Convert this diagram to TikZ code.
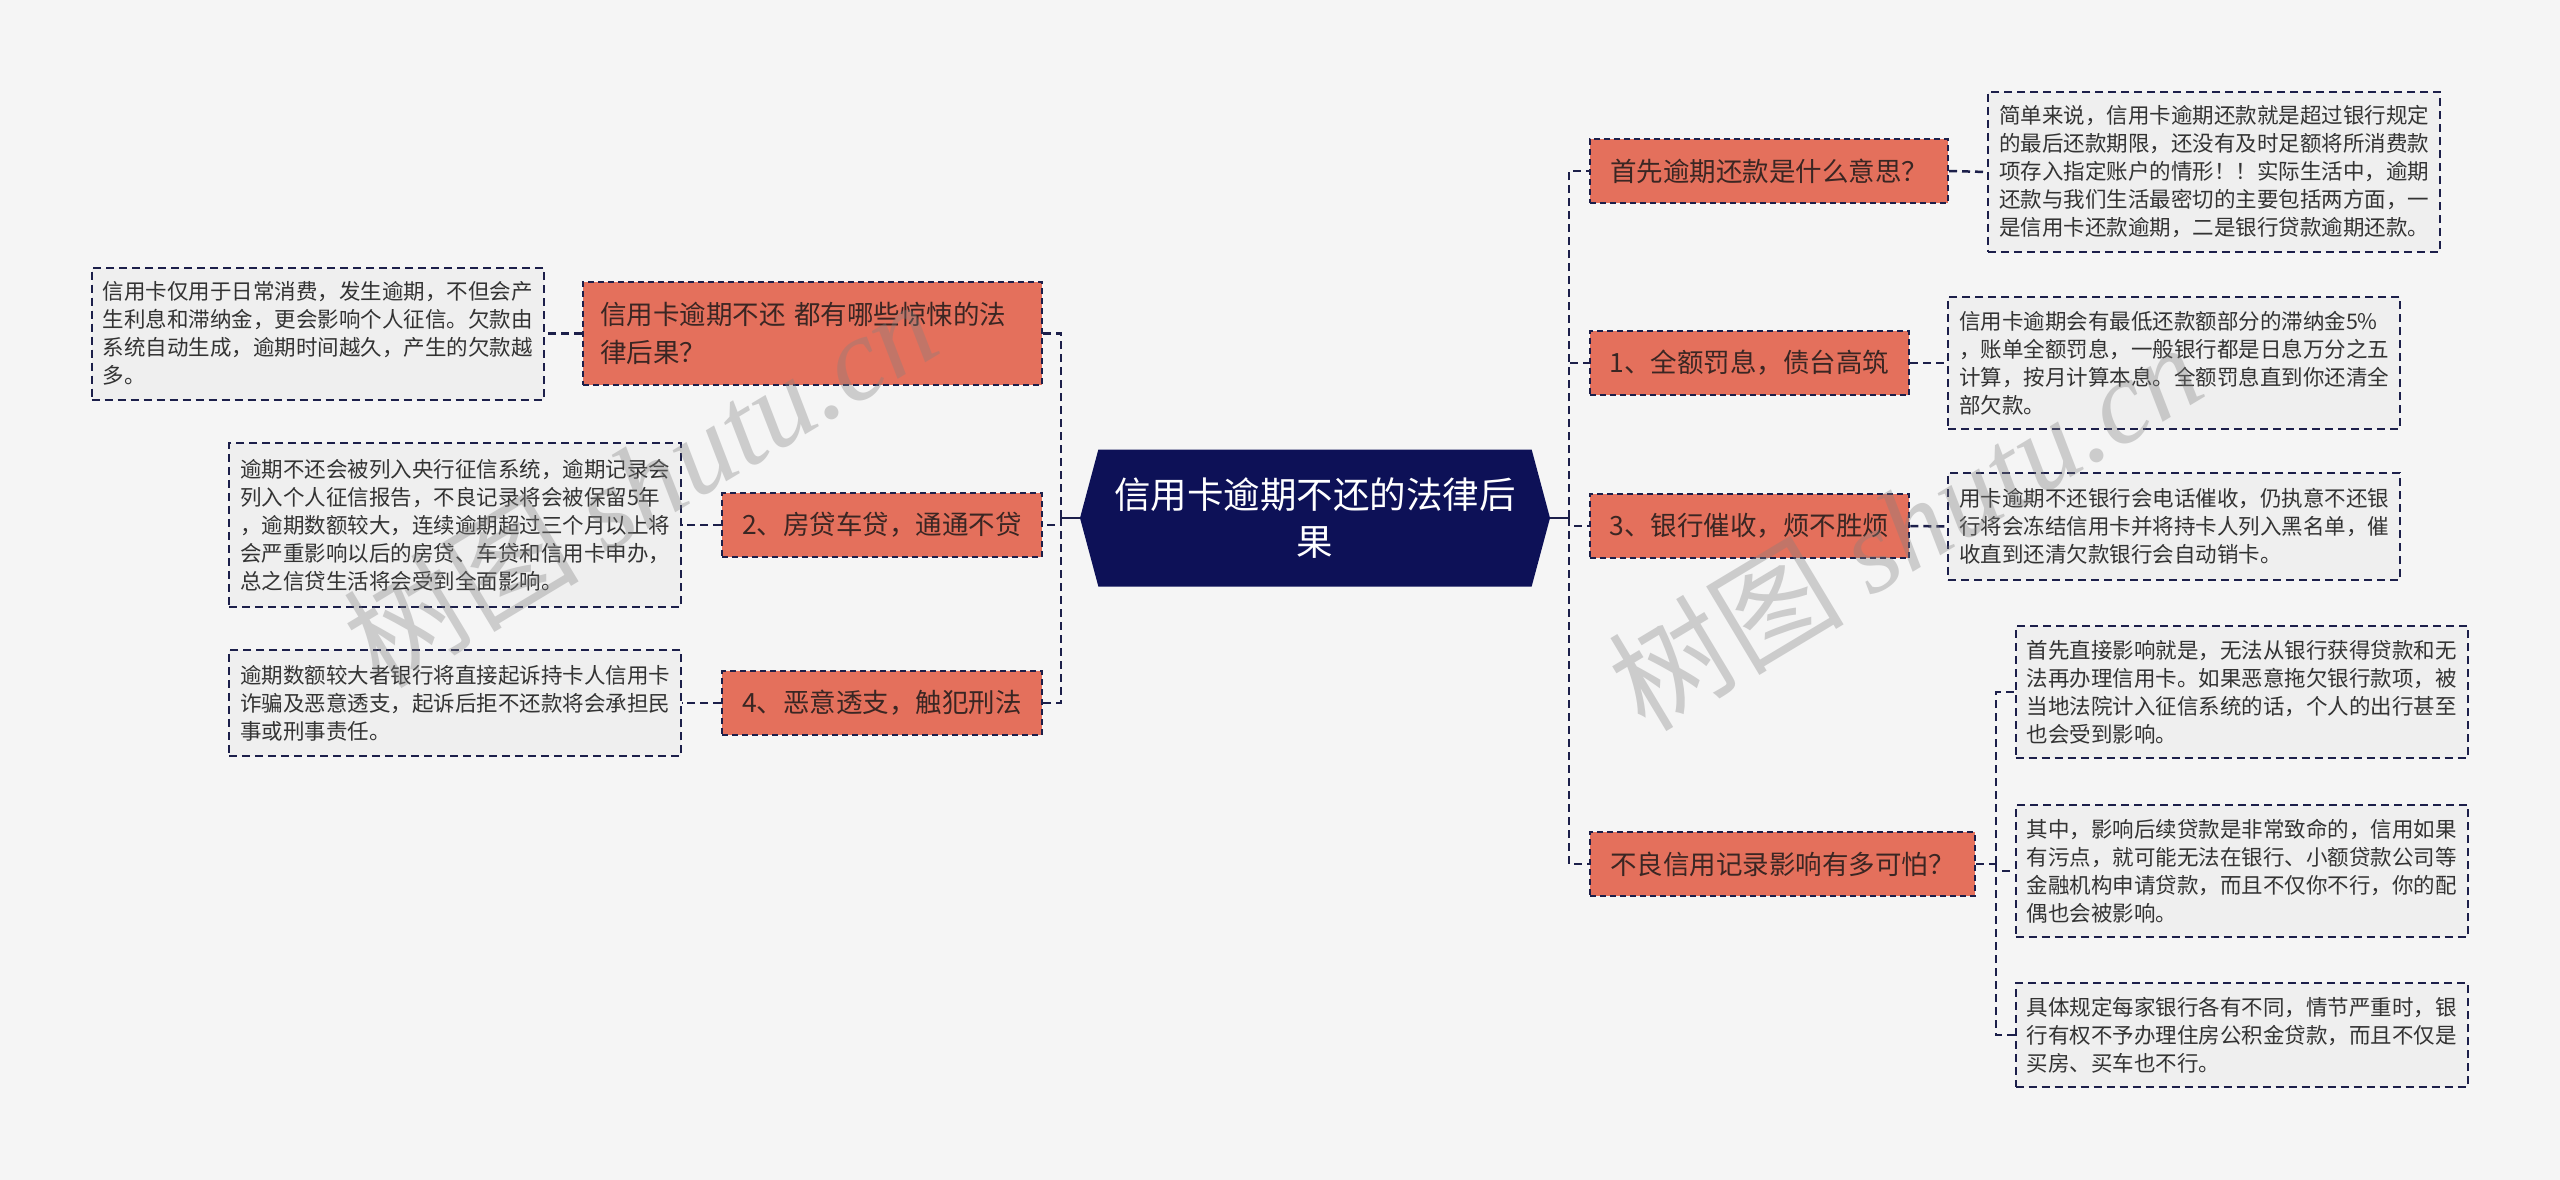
\documentclass[tikz,border=0pt]{standalone}
\usepackage{fontspec}
\setmainfont{Noto Sans CJK SC}
\newfontfamily\wmlatin{Liberation Serif}
\usetikzlibrary{shapes.symbols}
\definecolor{bgc}{HTML}{F5F5F5}
\definecolor{navy}{HTML}{0D1157}
\definecolor{edge}{HTML}{1C1F4A}
\definecolor{salmon}{HTML}{E4705C}
\definecolor{leafc}{HTML}{EFEFEF}
\definecolor{txtc}{HTML}{333333}
\definecolor{htxt}{HTML}{3A2623}
\begin{document}
\begin{tikzpicture}[x=1pt,y=-1pt,
  root/.style={signal,signal to=west and east,signal pointer angle=150,fill=navy,text=white,
    minimum width=470,minimum height=137,inner sep=0pt,align=center,font=\fontsize{36.5}{47}\selectfont},
  head/.style={rectangle,fill=salmon,draw=edge,line width=2pt,dash pattern=on 6pt off 4pt,text=htxt,
    inner xsep=20,inner ysep=0pt,minimum height=64,font=\fontsize{26.5}{38}\selectfont},
  leaf/.style={rectangle,fill=leafc,draw=edge,line width=2pt,dash pattern=on 8pt off 5pt,text=txtc,
    text width=430,inner xsep=11,inner ysep=0pt,align=left,font=\fontsize{21.5}{28}\selectfont},
  link/.style={draw=edge,line width=2.5pt,dash pattern=on 8pt off 5pt},
  stem/.style={draw=edge,line width=2.5pt},
  wmark/.style={text=gray,opacity=0.35,rotate=31,font=\fontsize{118}{118}\selectfont}]
\fill[bgc] (0,0) rectangle (2560,1180);
\useasboundingbox (0,0) rectangle (2560,1180);

\node at (1315,518) [root] (root) {信用卡逾期不还的法律后\\果};

% right side
\node at (1769,171) [head] (r1) {首先逾期还款是什么意思？};
\node at (1749.5,363) [head] (r2) {1、全额罚息，债台高筑};
\node at (1749.5,526) [head] (r3) {3、银行催收，烦不胜烦};
\node at (1782.5,864) [head] (r4) {不良信用记录影响有多可怕？};

\node at (2214,172) [leaf,minimum height=160] (l1) {简单来说，信用卡逾期还款就是超过银行规定\\的最后还款期限，还没有及时足额将所消费款\\项存入指定账户的情形！！实际生活中，逾期\\还款与我们生活最密切的主要包括两方面，一\\是信用卡还款逾期，二是银行贷款逾期还款。};
\node at (2174,363) [leaf,minimum height=132] (l2) {信用卡逾期会有最低还款额部分的滞纳金5\%\\，账单全额罚息，一般银行都是日息万分之五\\计算，按月计算本息。全额罚息直到你还清全\\部欠款。};
\node at (2174,526.5) [leaf,minimum height=107] (l3) {用卡逾期不还银行会电话催收，仍执意不还银\\行将会冻结信用卡并将持卡人列入黑名单，催\\收直到还清欠款银行会自动销卡。};
\node at (2241.5,692) [leaf,minimum height=132] (l4a) {首先直接影响就是，无法从银行获得贷款和无\\法再办理信用卡。如果恶意拖欠银行款项，被\\当地法院计入征信系统的话，个人的出行甚至\\也会受到影响。};
\node at (2241.5,871) [leaf,minimum height=132] (l4b) {其中，影响后续贷款是非常致命的，信用如果\\有污点，就可能无法在银行、小额贷款公司等\\金融机构申请贷款，而且不仅你不行，你的配\\偶也会被影响。};
\node at (2241.5,1035) [leaf,minimum height=104] (l4c) {具体规定每家银行各有不同，情节严重时，银\\行有权不予办理住房公积金贷款，而且不仅是\\买房、买车也不行。};

% left side
\node at (812.5,333.5) [head,text width=425,inner xsep=17,align=left,minimum height=103] (f1) {信用卡逾期不还 都有哪些惊悚的法\\律后果？};
\node at (882,525) [head] (f2) {2、房贷车贷，通通不贷};
\node at (882,703) [head] (f3) {4、恶意透支，触犯刑法};

\node at (317.5,333.5) [leaf,minimum height=132] (e1) {信用卡仅用于日常消费，发生逾期，不但会产\\生利息和滞纳金，更会影响个人征信。欠款由\\系统自动生成，逾期时间越久，产生的欠款越\\多。};
\node at (455,525) [leaf,minimum height=164] (e2) {逾期不还会被列入央行征信系统，逾期记录会\\列入个人征信报告，不良记录将会被保留5年\\，逾期数额较大，连续逾期超过三个月以上将\\会严重影响以后的房贷、车贷和信用卡申办，\\总之信贷生活将会受到全面影响。};
\node at (455,703) [leaf,minimum height=106] (e3) {逾期数额较大者银行将直接起诉持卡人信用卡\\诈骗及恶意透支，起诉后拒不还款将会承担民\\事或刑事责任。};

% junctions
\coordinate (rj) at (1569,518);
\coordinate (lj) at (1061,518);
\coordinate (sj) at (1996,864);

\draw[stem] (root.east) -- (rj);
\draw[link] (rj) |- (r1.west);
\draw[link] (rj) |- (r2.west);
\draw[link] (rj) |- (r3.west);
\draw[link] (rj) |- (r4.west);
\draw[link] (r1.east) -- (l1.west);
\draw[link] (r2.east) -- (l2.west);
\draw[link] (r3.east) -- (l3.west);
\draw[link] (r4.east) -- (sj);
\draw[link] (sj) |- (l4a.west);
\draw[link] (sj) |- (l4b.west);
\draw[link] (sj) |- (l4c.west);

\draw[stem] (root.west) -- (lj);
\draw[link] (lj) |- (f1.east);
\draw[link] (lj) |- (f2.east);
\draw[link] (lj) |- (f3.east);
\draw[link] (f1.west) -- (e1.east);
\draw[link] (f2.west) -- (e2.east);
\draw[link] (f3.west) -- (e3.east);

% watermarks
\node at (640,482) [wmark] (wm1) {树图 {\wmlatin\itshape shutu.cn}};
\node at (1905,525) [wmark] (wm2) {树图 {\wmlatin\itshape shutu.cn}};
\end{tikzpicture}
\end{document}
